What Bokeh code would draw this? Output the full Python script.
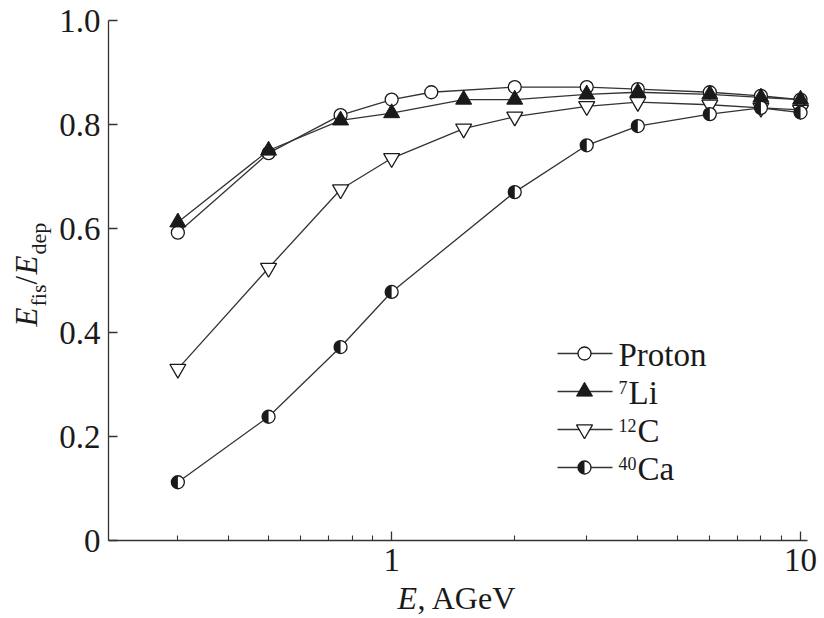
import math
from bokeh.plotting import figure
from bokeh.models import Range1d, FixedTicker, CustomJSTickFormatter, Label
from bokeh.embed import file_html
from bokeh.resources import INLINE

# ---------------- data ----------------
energy_proton = [0.3, 0.5, 0.75, 1.0, 1.25, 2.0, 3.0, 4.0, 6.0, 8.0, 10.0]
ratio_proton = [0.592, 0.745, 0.818, 0.848, 0.862, 0.872, 0.872, 0.868, 0.862, 0.855, 0.848]

energy_li = [0.3, 0.5, 0.75, 1.0, 1.5, 2.0, 3.0, 4.0, 6.0, 8.0, 10.0]
ratio_li = [0.612, 0.750, 0.808, 0.822, 0.848, 0.848, 0.858, 0.862, 0.858, 0.852, 0.848]

energy_c = [0.3, 0.5, 0.75, 1.0, 1.5, 2.0, 3.0, 4.0, 6.0, 8.0, 10.0]
ratio_c = [0.330, 0.524, 0.675, 0.735, 0.792, 0.815, 0.835, 0.843, 0.838, 0.832, 0.828]

energy_ca = [0.3, 0.5, 0.75, 1.0, 2.0, 3.0, 4.0, 6.0, 8.0, 10.0]
ratio_ca = [0.112, 0.238, 0.372, 0.478, 0.670, 0.760, 0.797, 0.820, 0.832, 0.823]

y_ticks = [0.0, 0.2, 0.4, 0.6, 0.8, 1.0]
x_major_ticks = [1, 10]
x_minor_ticks = [0.3, 0.4, 0.5, 0.6, 0.7, 0.8, 0.9, 2, 3, 4, 5, 6, 7, 8, 9]

legend_main = ["Proton", "Li", "C", "Ca"]
legend_sup = ["", "7", "12", "40"]

# ---------------- layout ----------------
W, H = 824, 618
# pixel box of the data area (axis extents) inside the canvas
FL, FR, FT, FB = 108, 807, 20, 540
X_MIN, X_MAX = 0.203, 10.4
Y_MIN, Y_MAX = 0.0, 1.0

# the plotting frame covers the whole canvas; axes are pinned at the data-area edges
lx0, lx1 = math.log10(X_MIN), math.log10(X_MAX)
kx = (lx1 - lx0) / (FR - FL)
ky = (Y_MAX - Y_MIN) / (FB - FT)
xr = Range1d(10 ** (lx0 - FL * kx), 10 ** (lx0 + (W - FL) * kx))
yr = Range1d(Y_MIN - (H - FB) * ky, Y_MAX + FT * ky)

INK = "#1a1a1a"
LINE = "#333333"
SERIF = "Liberation Serif"

p = figure(width=W, height=H, x_axis_type="log", x_range=xr, y_range=yr,
           output_backend="svg", toolbar_location=None,
           min_border_left=0, min_border_right=0, min_border_top=0, min_border_bottom=0)
p.outline_line_color = None
p.xgrid.visible = False
p.ygrid.visible = False
p.background_fill_color = "white"
p.border_fill_color = "white"

# axes
xa = p.xaxis[0]
xa.fixed_location = Y_MIN
xa.bounds = (X_MIN, X_MAX)
xa.ticker = FixedTicker(ticks=x_major_ticks, minor_ticks=x_minor_ticks)
xa.formatter = CustomJSTickFormatter(code="return String(tick);")
ya = p.yaxis[0]
ya.fixed_location = X_MIN
ya.bounds = (Y_MIN, Y_MAX)
ya.ticker = FixedTicker(ticks=y_ticks)
ya.formatter = CustomJSTickFormatter(code="return tick == 0 ? '0' : tick.toFixed(1);")
for ax in (xa, ya):
    ax.axis_line_color = LINE
    ax.axis_line_width = 1.3
    ax.major_tick_line_color = LINE
    ax.major_tick_line_width = 1.3
    ax.minor_tick_line_color = LINE
    ax.minor_tick_line_width = 1.1
    ax.major_tick_in = 9
    ax.major_tick_out = 0
    ax.major_label_text_font = SERIF
    ax.major_label_text_font_size = "33px"
    ax.major_label_text_color = INK
    ax.major_label_standoff = 8
xa.minor_tick_in = 5
xa.minor_tick_out = 0
ya.minor_tick_line_color = None


def to_data(cx, cy):
    xd = 10 ** (lx0 + (cx - FL) * kx)
    yd = Y_MIN + (FB - cy) * ky
    return xd, yd


def add_label(text, cx, base, size, italic=False, rotated=False):
    # cx, base: canvas pixels of the text start and its baseline
    shift = 0.35 * size
    if rotated:
        ax_, ay_ = base - shift, cx
    else:
        ax_, ay_ = cx, base - shift
    p.add_layout(Label(x=ax_, y=H - ay_, x_units="screen", y_units="screen", text=text,
                       text_font=SERIF, text_font_size=f"{size}px",
                       text_font_style="italic" if italic else "normal",
                       text_color=INK, text_align="left", text_baseline="alphabetic",
                       angle=math.pi / 2 if rotated else 0.0))


# ---------------- series ----------------
for xs, ys in ((energy_proton, ratio_proton), (energy_c, ratio_c),
               (energy_li, ratio_li), (energy_ca, ratio_ca)):
    p.line(xs, ys, line_color=LINE, line_width=1.3)

CIRC = 13
TRI = 16


def marker_proton(xs, ys):
    p.scatter(xs, ys, marker="circle", size=CIRC, fill_color="white", line_color=INK, line_width=1.3)


def marker_c(xs, ys):
    p.scatter(xs, ys, marker="inverted_triangle", size=TRI, fill_color="white", line_color=INK, line_width=1.3)


def marker_li(xs, ys):
    p.scatter(xs, ys, marker="triangle", size=TRI, fill_color=INK, line_color=INK, line_width=1.0)


def marker_ca(xs, ys):
    p.scatter(xs, ys, marker="circle", size=CIRC, fill_color="white", line_color=None)
    p.wedge(xs, ys, radius=CIRC / 2, radius_units="screen", start_angle=math.pi / 2,
            end_angle=3 * math.pi / 2, fill_color=INK, line_color=None)
    p.scatter(xs, ys, marker="circle", size=CIRC, fill_color=None, line_color=INK, line_width=1.3)


marker_proton(energy_proton, ratio_proton)
marker_c(energy_c, ratio_c)
marker_li(energy_li, ratio_li)
marker_ca(energy_ca, ratio_ca)

# ---------------- legend (drawn by hand for superscripts / half-filled marker) ----------------
row_y = [353, 391, 429, 467]
leg_x0, leg_x1, leg_mx, leg_tx = 557, 612, 584, 618
markers = [marker_proton, marker_li, marker_c, marker_ca]
for i, cy in enumerate(row_y):
    xa0, ya0 = to_data(leg_x0, cy)
    xa1, _ = to_data(leg_x1, cy)
    p.segment([xa0], [ya0], [xa1], [ya0], line_color=LINE, line_width=1.3)
    mx, my = to_data(leg_mx, cy)
    markers[i]([mx], [my])
    base = cy + 13
    if legend_sup[i]:
        add_label(legend_sup[i], leg_tx, base - 11, 18)
        w = 9 * len(legend_sup[i])
        add_label(legend_main[i], leg_tx + w + 1, base, 33)
    else:
        add_label(legend_main[i], leg_tx, base, 33)

# ---------------- axis titles ----------------
# x: "E, AGeV"
add_label("E", 397, 609, 32, italic=True)
add_label(", AGeV", 417, 609, 32)

# y: E_fis / E_dep, rotated
ybase = 37
sub_base = 46
cy = 326
add_label("E", cy, ybase, 31, italic=True, rotated=True); cy -= 20
add_label("fis", cy, sub_base, 22, rotated=True); cy -= 22
add_label("/", cy, ybase, 31, rotated=True); cy -= 10
add_label("E", cy, ybase, 31, italic=True, rotated=True); cy -= 20
add_label("dep", cy, sub_base, 22, rotated=True)

open("out.html", "w").write(file_html(p, INLINE))
